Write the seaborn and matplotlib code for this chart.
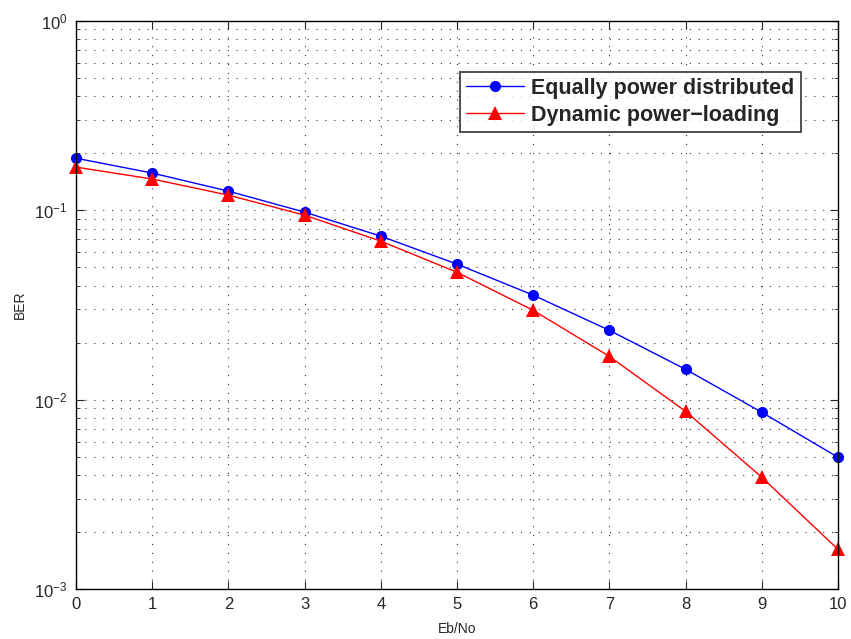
import numpy as np
import pandas as pd
import seaborn as sns
import matplotlib.pyplot as plt
from matplotlib.ticker import LogLocator, NullFormatter

# Data
eb_no = [0, 1, 2, 3, 4, 5, 6, 7, 8, 9, 10]
ber_equal = [0.188, 0.157, 0.126, 0.0976, 0.0729, 0.0519, 0.0356, 0.0232, 0.01445, 0.00857, 0.00496]
ber_dynamic = [0.1687, 0.146, 0.120, 0.0941, 0.0686, 0.0470, 0.0296, 0.0169, 0.00867, 0.00389, 0.00162]
series_names = ['Equally power distributed', 'Dynamic power\u2212loading']

df = pd.concat([
    pd.DataFrame({'Eb/No': eb_no, 'BER': ber_equal, 'scheme': series_names[0]}),
    pd.DataFrame({'Eb/No': eb_no, 'BER': ber_dynamic, 'scheme': series_names[1]}),
])

sns.set_style('ticks')
plt.rcParams['font.family'] = ['Liberation Sans', 'DejaVu Sans']
plt.rcParams['mathtext.fontset'] = 'custom'
plt.rcParams['mathtext.rm'] = 'Liberation Sans'
plt.rcParams['mathtext.it'] = 'Liberation Sans'

fig = plt.figure(figsize=(8.51, 6.39), dpi=100)
ax = fig.add_axes([0.0893, 0.0782, 0.8954, 0.8894])

palette = {series_names[0]: '#0000ff', series_names[1]: '#ff0000'}
markers = {series_names[0]: 'o', series_names[1]: '^'}
sns.lineplot(data=df, x='Eb/No', y='BER', hue='scheme', style='scheme',
             palette=palette, markers=markers, dashes=False,
             markersize=8, markeredgewidth=0, linewidth=1.0, ax=ax)
for ln in ax.lines:
    ln.set_clip_on(False)
    if ln.get_marker() == '^':
        ln.set_markersize(9.5)

ax.set_yscale('log')
ax.set_xlim(0, 10)
ax.set_ylim(1e-3, 1e0)
ax.set_xticks(range(0, 11))
ax.yaxis.set_major_locator(LogLocator(base=10, numticks=10))
ax.yaxis.set_minor_locator(LogLocator(base=10, subs=np.arange(2, 10), numticks=10))
ax.yaxis.set_minor_formatter(NullFormatter())

dot = (0, (1, 7))
ax.grid(True, which='major', axis='both', linestyle=dot, color='#333333', linewidth=0.8)
ax.grid(True, which='minor', axis='y', linestyle=dot, color='#333333', linewidth=0.8)
ax.tick_params(which='both', direction='in', top=True, right=True, labelsize=12, pad=6)
ax.tick_params(which='major', length=6)
ax.tick_params(which='minor', length=3)
for s in ax.spines.values():
    s.set_linewidth(1.0)
    s.set_color('black')

ax.set_xlabel('Eb/No', fontsize=10, labelpad=7)
ax.set_ylabel('BER', fontsize=10, labelpad=5)

handles, labels = ax.get_legend_handles_labels()
leg = ax.legend(handles, labels, loc='upper right', bbox_to_anchor=(0.951, 0.910),
                prop={'weight': 'bold', 'size': 15.5}, frameon=True, fancybox=False,
                edgecolor='black', handlelength=2.7, borderpad=0.28, labelspacing=0.28,
                handletextpad=0.35, borderaxespad=0)
leg.get_frame().set_linewidth(1.2)

fig.savefig('out.png', dpi=100)
